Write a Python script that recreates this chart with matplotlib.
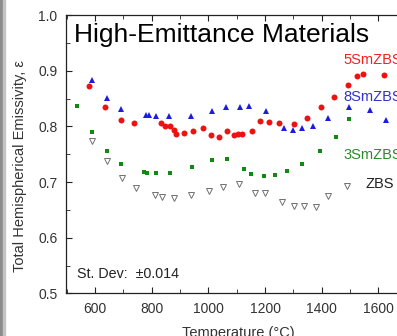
#!/usr/bin/env python3

import matplotlib
matplotlib.use('Agg')
import matplotlib.pyplot as plt
from matplotlib.patches import Rectangle
from matplotlib.ticker import MultipleLocator

# 5SmZBS (red circles)
sm5_T = [578, 635, 690, 737, 833, 848, 866, 877, 887, 914, 946, 982, 1011, 1038,
         1066, 1091, 1105, 1117, 1154, 1184, 1215, 1249, 1301, 1350, 1398, 1445,
         1494, 1525, 1546, 1620]
sm5_E = [0.872, 0.835, 0.811, 0.807, 0.806, 0.801, 0.801, 0.794, 0.787, 0.789,
         0.791, 0.797, 0.784, 0.781, 0.791, 0.784, 0.787, 0.787, 0.791, 0.810,
         0.808, 0.806, 0.804, 0.815, 0.834, 0.853, 0.874, 0.891, 0.895, 0.893]

# 8SmZBS (blue triangles)
sm8_T = [590, 641, 691, 780, 790, 816, 860, 937, 1014, 1061, 1113, 1143, 1202,
         1268, 1300, 1331, 1368, 1423, 1498, 1572, 1628]
sm8_E = [0.883, 0.851, 0.831, 0.821, 0.821, 0.819, 0.818, 0.818, 0.828, 0.835,
         0.834, 0.836, 0.828, 0.797, 0.794, 0.797, 0.801, 0.816, 0.834, 0.830,
         0.812]

# 3SmZBS (green squares)
sm3_T = [537, 589, 641, 693, 773, 784, 815, 865, 941, 1012, 1066, 1127, 1152,
         1195, 1235, 1276, 1329, 1395, 1451, 1497]
sm3_E = [0.837, 0.790, 0.756, 0.732, 0.718, 0.717, 0.716, 0.716, 0.727, 0.739,
         0.741, 0.724, 0.715, 0.710, 0.712, 0.719, 0.733, 0.756, 0.781, 0.813]

# ZBS (open gray triangles)
zbs_T = [590, 642, 696, 744, 810, 838, 877, 938, 1001, 1053, 1107, 1165, 1201,
         1260, 1304, 1338, 1379, 1421, 1488]
zbs_E = [0.774, 0.738, 0.708, 0.689, 0.677, 0.674, 0.672, 0.676, 0.684, 0.691,
         0.696, 0.681, 0.681, 0.665, 0.657, 0.657, 0.656, 0.675, 0.693]


def main():
    plt.rcParams['font.family'] = ['Liberation Sans', 'DejaVu Sans']

    fig = plt.figure(figsize=(3.97, 3.36), dpi=100)
    ax = fig.add_axes([0.166, 0.127, 0.834, 0.828])

    ax.plot(sm8_T, sm8_E, linestyle='none', marker='^', markersize=4.6,
            color='#1c1ce0', markeredgewidth=0)
    ax.plot(sm5_T, sm5_E, linestyle='none', marker='o', markersize=4.3,
            color='#ee1111', markeredgewidth=0)
    ax.plot(sm3_T, sm3_E, linestyle='none', marker='s', markersize=3.4,
            color='#128a12', markeredgewidth=0)
    ax.plot(zbs_T, zbs_E, linestyle='none', marker='v', markersize=4.4,
            markerfacecolor='white', markeredgecolor='#707070',
            markeredgewidth=0.7)

    ax.set_xlim(497, 1666)
    ax.set_ylim(0.5, 1.0)
    ax.xaxis.set_major_locator(MultipleLocator(200))
    ax.xaxis.set_minor_locator(MultipleLocator(100))
    ax.yaxis.set_major_locator(MultipleLocator(0.1))
    ax.yaxis.set_minor_locator(MultipleLocator(0.05))
    ax.tick_params(which='both', direction='in', top=True, right=False,
                   labelsize=10, labelcolor='#333333', color='#222222')
    ax.tick_params(which='major', length=4, pad=6)
    ax.tick_params(which='minor', length=3)
    ax.spines['right'].set_visible(False)
    for s in ['left', 'bottom', 'top']:
        ax.spines[s].set_color('#222222')
        ax.spines[s].set_linewidth(0.9)

    ax.text(0.025, 0.93, 'High-Emittance Materials', transform=ax.transAxes,
            fontsize=19, color='black', va='center', ha='left')
    ax.text(0.035, 0.068, 'St. Dev:  \u00b10.014', transform=ax.transAxes,
            fontsize=10.3, color='#222222', va='center', ha='left')

    # series names, cut by the right edge like the scan
    ax.text(1478, 0.919, '5SmZBS', color='#ee2222', fontsize=10.5, va='center')
    ax.text(1478, 0.853, '8SmZBS', color='#3030d0', fontsize=10.5, va='center')
    ax.text(1478, 0.748, '3SmZBS', color='#2a8a2a', fontsize=10.5, va='center')
    ax.text(1555, 0.696, 'ZBS', color='#222222', fontsize=10.5, va='center')

    fig.text(20 / 397, 1 - 166 / 336, 'Total Hemispherical Emissivity, \u03b5',
             rotation=90, fontsize=10.5, color='#333333',
             ha='center', va='center')
    fig.text(238 / 397, -0.004, 'Temperature (\u00b0C)', fontsize=10.5,
             color='#333333', ha='center', va='baseline')

    # gray strip along the left edge of the scan
    fig.patches.append(Rectangle((0, 0), 3 / 397, 1, transform=fig.transFigure,
                                 color='#8c8c8c', zorder=5))
    fig.patches.append(Rectangle((3 / 397, 0), 2 / 397, 1,
                                 transform=fig.transFigure,
                                 color='#c4c4c4', zorder=5))

    fig.savefig('out.png', dpi=100)


if __name__ == '__main__':
    main()
